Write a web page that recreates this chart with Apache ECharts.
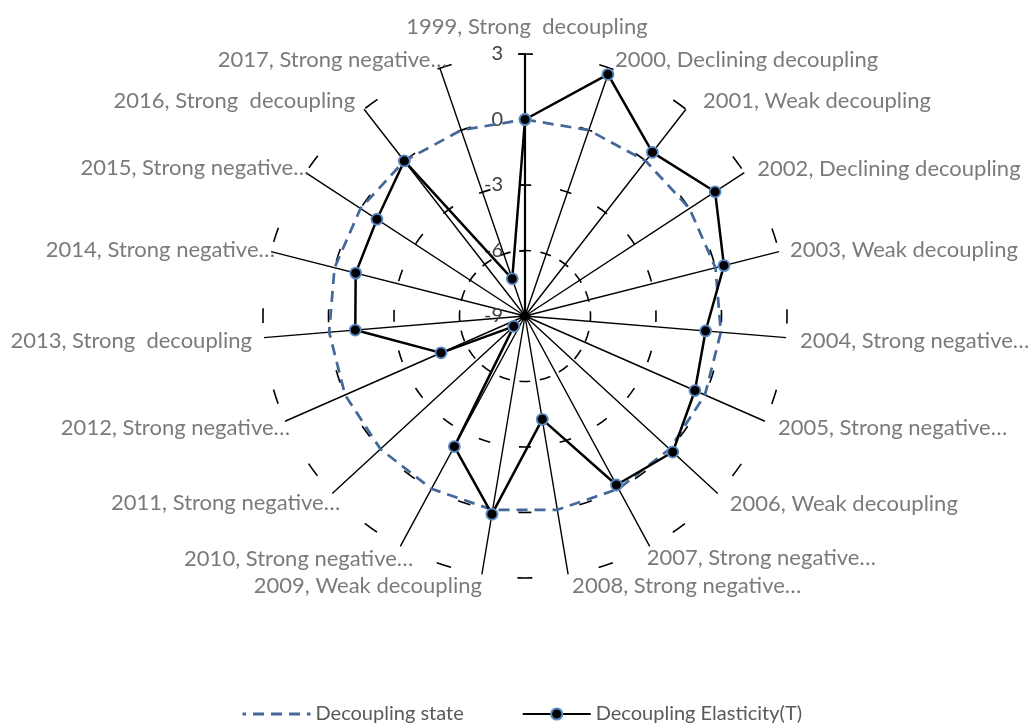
<!DOCTYPE html>
<html>
<head>
<meta charset="utf-8">
<script src="https://cdn.jsdelivr.net/npm/echarts@6/dist/echarts.min.js"></script>
<style>
  html, body { margin: 0; padding: 0; background: #fff; }
  #chart { width: 1030px; height: 724px; }
</style>
</head>
<body>
<div id="chart"></div>
<script>
// categories (year, state)
var categories = [
  '1999, Strong  decoupling', '2000, Declining decoupling', '2001, Weak decoupling',
  '2002, Declining decoupling', '2003, Weak decoupling', '2004, Strong negative…',
  '2005, Strong negative…', '2006, Weak decoupling', '2007, Strong negative…',
  '2008, Strong negative…', '2009, Weak decoupling', '2010, Strong negative…',
  '2011, Strong negative…', '2012, Strong negative…', '2013, Strong  decoupling',
  '2014, Strong negative…', '2015, Strong negative…', '2016, Strong  decoupling',
  '2017, Strong negative…'
];
// Decoupling state (reference ring)
var stateValues = [0, 0, 0, 0, 0, 0, 0, 0, 0, 0, 0, 0, 0, 0, 0, 0, 0, 0, 0];
// Decoupling Elasticity(T)
var elasticValues = [0, 2.7, 0.5, 1.4, 0.4, -0.7, -0.5, 0.2, -0.2, -4.2,
  0.2, -2.2, -8.3, -4.8, -1.2, -1.0, -0.9, 0, -7.2];
// value axis
var axisMin = -9, axisMax = 3, axisStep = 3;

var font = 'Lato, "Noto Sans", sans-serif';
var textGray = '#595959';
var center = [525, 316];
var radius = 262;

// where each category name sits around the end of its spoke: [align, dx, dy]
var labelPlace = [
  ['center', 2, -27], ['left', 5, -8], ['left', 17, -8], ['left', 13, -4],
  ['left', 11, -2], ['left', 14, 3], ['left', 13, 7], ['left', 12, 10],
  ['left', -3, 11], ['left', 4, 11], ['right', 0, 11], ['right', 13, 12],
  ['right', 8, 9], ['right', 5, 7], ['right', -12, 3], ['right', 4, -2],
  ['right', 4, -5], ['right', -9, -8], ['right', 7, -8]
];

// closed loop: [radius value, category index], back to the first one
function loop(values) {
  var out = values.map(function (v, i) { return [v, i]; });
  out.push([values[0], 0]);
  return out;
}

// dashed rings (-6, -3, 0, 3): 20 dashes per ring, one polar per ring
var ringDashLen = [11, 12, 13, 15];

// angle axis as a full turn: one step per category, so the loop closes
function angleAxisFor(idx, spokes) {
  return {
    polarIndex: idx,
    type: 'value',
    min: 0,
    max: categories.length,
    interval: 1,
    startAngle: 90,
    clockwise: true,
    axisLine: { show: false },
    axisTick: { show: false },
    axisLabel: { show: false },
    splitLine: { show: spokes, lineStyle: { color: '#000', width: 1.4 } }
  };
}

var polars = [{ center: center, radius: radius }];
var angleAxes = [angleAxisFor(0, true)];
var radiusAxes = [{
  polarIndex: 0,
  min: axisMin, max: axisMax, interval: axisStep,
  axisLine: { show: true, lineStyle: { color: '#000', width: 2.2 } },
  axisTick: { show: true, length: 6, lineStyle: { color: '#000', width: 1.5 } },
  axisLabel: { margin: 22, color: '#404040', fontSize: 20, fontFamily: font },
  splitLine: { show: false }
}];

var ringCount = (axisMax - axisMin) / axisStep;
for (var k = 0; k < ringDashLen.length; k++) {
  var colors = [];
  for (var c = 0; c <= ringCount; c++) colors.push('transparent');
  colors[k + 1] = '#000';
  var ringR = radius * (k + 1) / ringCount;
  var period = 2 * Math.PI * ringR / 20;
  var idx = k + 1;
  polars.push({ center: center, radius: radius });
  angleAxes.push(angleAxisFor(idx, false));
  radiusAxes.push({
    polarIndex: idx, min: axisMin, max: axisMax, interval: axisStep,
    axisLine: { show: false }, axisTick: { show: false }, axisLabel: { show: false },
    splitLine: {
      show: true,
      lineStyle: {
        color: colors, width: 1.6,
        type: [ringDashLen[k], period - ringDashLen[k]],
        dashOffset: ringDashLen[k] / 2
      }
    }
  });
}

// other half of the crossing ticks on the value axis
polars.push({ center: center, radius: radius });
angleAxes.push(angleAxisFor(5, false));
radiusAxes.push({
  polarIndex: 5, min: axisMin, max: axisMax, interval: axisStep,
  axisLine: { show: false },
  axisTick: { show: true, inside: true, length: 6, lineStyle: { color: '#000', width: 1.5 } },
  axisLabel: { show: false }, splitLine: { show: false }
});

var nameData = categories.map(function (name, i) {
  var p = labelPlace[i];
  return {
    name: name,
    value: [axisMax, i],
    label: { align: p[0], verticalAlign: 'middle', offset: [p[1], p[2]] }
  };
});

var chart = echarts.init(document.getElementById('chart'), null, { renderer: 'canvas' });
chart.setOption({
  backgroundColor: '#fff',
  animation: false,
  polar: polars,
  angleAxis: angleAxes,
  radiusAxis: radiusAxes,
  legend: {
    left: 236,
    top: 699,
    itemWidth: 68,
    itemHeight: 14,
    itemGap: 58,
    textStyle: { color: textGray, fontSize: 20, fontFamily: font },
    data: [
      {
        name: 'Decoupling state',
        itemStyle: { color: 'rgba(0,0,0,0)', borderColor: 'rgba(0,0,0,0)' },
        lineStyle: { width: 3, type: [11, 7] }
      },
      { name: 'Decoupling Elasticity(T)' }
    ]
  },
  series: [
    {
      name: 'Decoupling state',
      type: 'line',
      coordinateSystem: 'polar',
      polarIndex: 0,
      data: loop(stateValues),
      symbol: 'none',
      lineStyle: { color: '#44689A', width: 2.75, type: [11, 7] },
      itemStyle: { color: '#44689A' },
      z: 3
    },
    {
      name: 'Decoupling Elasticity(T)',
      type: 'line',
      coordinateSystem: 'polar',
      polarIndex: 0,
      data: loop(elasticValues),
      symbol: 'circle',
      symbolSize: 11,
      lineStyle: { color: '#000', width: 2.5 },
      itemStyle: { color: '#000', borderColor: '#5A8AC6', borderWidth: 1.8 },
      z: 4
    },
    {
      name: 'names',
      type: 'scatter',
      coordinateSystem: 'polar',
      polarIndex: 0,
      silent: true,
      symbolSize: 1,
      itemStyle: { color: 'rgba(0,0,0,0)' },
      label: {
        show: true,
        position: 'inside',
        formatter: '{b}',
        color: textGray,
        fontSize: 22,
        fontFamily: font
      },
      data: nameData,
      z: 5
    }
  ]
});
</script>
</body>
</html>
